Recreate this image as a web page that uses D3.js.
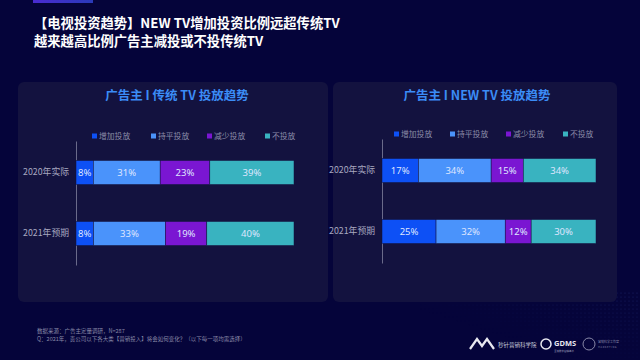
<!DOCTYPE html>
<html><head><meta charset="utf-8">
<script src="https://cdn.jsdelivr.net/npm/d3@7"></script>
<style>
html,body{margin:0;padding:0;background:#05043a;}
svg{display:block;font-family:"Noto Sans CJK SC","Noto Sans",sans-serif;}
</style></head>
<body>
<svg id="c" width="640" height="360"></svg>
<script>
const categories = ["2020年实际", "2021年预期"];
const seriesNames = ["增加投放", "持平投放", "减少投放", "不投放"];
const traditionalTV = [[8, 31, 23, 39], [8, 33, 19, 40]];
const newTV = [[17, 34, 15, 34], [25, 32, 12, 30]];
const colors = ["#0d50f5", "#4a93fb", "#7a16d2", "#39b3c0"];
const panelTitles = ["广告主 I 传统 TV 投放趋势", "广告主 I NEW TV 投放趋势"];
const titleLines = ["【电视投资趋势】NEW TV增加投资比例远超传统TV", "越来越高比例广告主减投或不投传统TV"];
const notes = ["数据来源：广告主定量调研，N=287", "Q：2021年，贵公司以下各大类【营销投入】将会如何变化？（以下每一项均需选择）"];

const svg = d3.select("#c");
const defs = svg.append("defs");
const g1 = defs.append("linearGradient").attr("id","acc");
g1.append("stop").attr("offset","0").attr("stop-color","#4a2bd0");
g1.append("stop").attr("offset","1").attr("stop-color","#2a3ab8");
const pat = defs.append("pattern").attr("id","dots").attr("width",4).attr("height",4).attr("patternUnits","userSpaceOnUse");
pat.append("circle").attr("cx",1).attr("cy",1).attr("r",0.6).attr("fill","#2a3a8a");
const fade = defs.append("linearGradient").attr("id","fade").attr("x1","0").attr("y1","1").attr("x2","1").attr("y2","0");
fade.append("stop").attr("offset","0.35").attr("stop-color","#fff").attr("stop-opacity",0);
fade.append("stop").attr("offset","1").attr("stop-color","#fff").attr("stop-opacity",0.6);
const mask = defs.append("mask").attr("id","m");
mask.append("rect").attr("x",420).attr("y",290).attr("width",220).attr("height",70).attr("fill","url(#fade)");

svg.append("rect").attr("width",640).attr("height",360).attr("fill","#05043a");
svg.append("rect").attr("x",420).attr("y",290).attr("width",220).attr("height",70).attr("fill","url(#dots)").attr("mask","url(#m)");
svg.append("rect").attr("x",33).attr("y",0).attr("width",60).attr("height",3).attr("fill","url(#acc)");

svg.selectAll("text.title").data(titleLines).join("text")
  .attr("class","title").attr("x",34).attr("y",(d,i)=>28+i*18)
  .attr("fill","#ffffff").attr("font-size",13.3).attr("font-weight","bold").text(d=>d);

svg.selectAll("text.note").data(notes).join("text")
  .attr("class","note").attr("x",37).attr("y",(d,i)=>333+i*7.5)
  .attr("fill","#8a8aa8").attr("font-size",5.5).text(d=>d);

const panels = [
  {x:18, w:310, data:traditionalTV, title:panelTitles[0], x0:76, x1:294, y0:141, y1:265, legendY:136, legendX:[94,153,209,267], tx:177},
  {x:333, w:284, data:newTV, title:panelTitles[1], x0:382, x1:596, y0:139, y1:263, legendY:134, legendX:[396,452,508,565], tx:477}
];

panels.forEach(p => {
  svg.append("rect").attr("x",p.x).attr("y",82).attr("width",p.w).attr("height",220).attr("rx",6).attr("fill","#13123f");
  svg.append("text").attr("x",p.tx).attr("y",100).attr("text-anchor","middle")
    .attr("fill","#3b8cf6").attr("font-size",12.5).attr("font-weight","bold").text(p.title);

  const rows = p.data.map((r,i)=>{const o={cat:categories[i]}; seriesNames.forEach((s,j)=>o[s]=r[j]); return o;});
  const stack = d3.stack().keys(seriesNames).offset(d3.stackOffsetExpand)(rows);
  const x = d3.scaleLinear().domain([0,1]).range([p.x0,p.x1]);
  const y = d3.scaleBand().domain(categories).range([p.y0, p.y1]).paddingInner(0.607).paddingOuter(0.32);

  const axis = d3.axisLeft(y).tickSize(0).tickPadding(7);
  const ga = svg.append("g").attr("transform",`translate(${p.x0},0)`).call(axis);
  ga.select(".domain").attr("stroke","#6a6a8a").attr("stroke-width",1);
  ga.selectAll("text").attr("fill","#a8a8c0").attr("font-size",8.8).attr("font-family","'Noto Sans CJK SC',sans-serif");

  const layers = svg.append("g").selectAll("g").data(stack).join("g").attr("fill",(d,i)=>colors[i]);
  layers.selectAll("rect").data(d=>d.map(v=>Object.assign(v,{key:d.key}))).join("rect")
    .attr("x",d=>x(d[0])).attr("width",d=>x(d[1])-x(d[0]))
    .attr("y",d=>y(d.data.cat)).attr("height",y.bandwidth())
    .attr("stroke","#13123f").attr("stroke-width",0.5);
  layers.selectAll("text").data(d=>d).join("text")
    .attr("x",d=>(x(d[0])+x(d[1]))/2).attr("y",d=>y(d.data.cat)+y.bandwidth()/2+3.5)
    .attr("text-anchor","middle").attr("fill","#dfe6ff").attr("font-size",9.5)
    .attr("font-family","'Noto Sans',sans-serif")
    .text(d=>d.data[d.key]+"%");

  const lg = svg.append("g").selectAll("g").data(seriesNames).join("g")
    .attr("transform",(d,i)=>`translate(${p.legendX[i]},${p.legendY})`);
  lg.append("rect").attr("x",-2).attr("y",-2.5).attr("width",5).attr("height",5).attr("fill",(d,i)=>colors[i]);
  lg.append("text").attr("x",5).attr("y",3).attr("fill","#8c8ca8").attr("font-size",7.8).text(d=>d);
});

// footer logos
const lgG = svg.append("g");
lgG.append("path").attr("d","M470,349 L477,339 L482,346 L487,339 L494,349").attr("fill","none").attr("stroke","#e8e8f0").attr("stroke-width",2.2);
lgG.append("text").attr("x",498).attr("y",347).attr("fill","#c8c8d8").attr("font-size",5.5).text("秒针营销科学院");
lgG.append("circle").attr("cx",546).attr("cy",344).attr("r",5).attr("fill","none").attr("stroke","#e8e8f0").attr("stroke-width",1.5);
lgG.append("text").attr("x",554).attr("y",346).attr("fill","#e8e8f0").attr("font-size",7.5).attr("font-weight","bold").attr("font-family","'Noto Sans',sans-serif").text("GDMS");
lgG.append("text").attr("x",554).attr("y",352).attr("fill","#9a9ab8").attr("font-size",2.5).text("全域数字营销峰会");
lgG.append("circle").attr("cx",589).attr("cy",344).attr("r",6).attr("fill","none").attr("stroke","#8888a8").attr("stroke-width",1);
lgG.append("text").attr("x",598).attr("y",343).attr("fill","#8888a8").attr("font-size",3).text("营销科学工作室");
lgG.append("text").attr("x",598).attr("y",348).attr("fill","#8888a8").attr("font-size",2.5).text("M A R K E T I N G");
</script>
</body></html>
